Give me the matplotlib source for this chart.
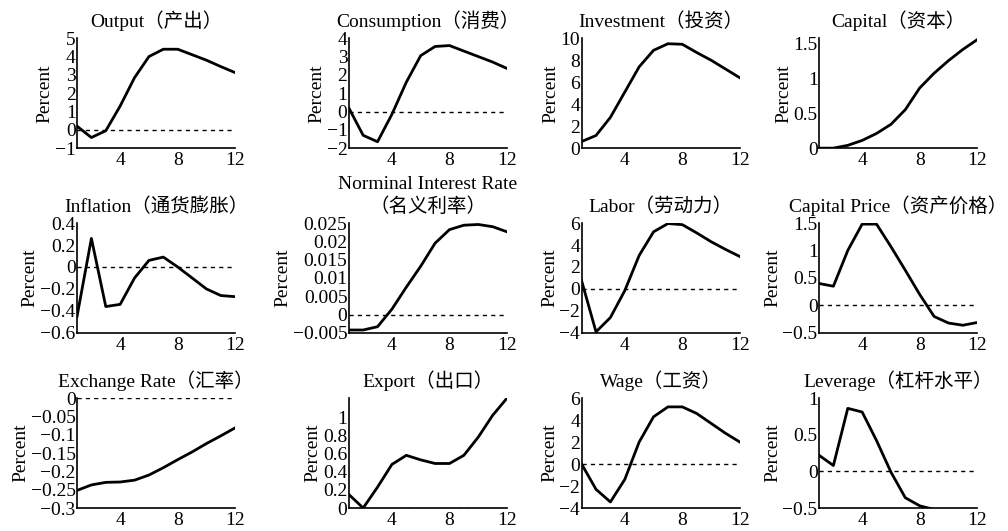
import matplotlib
matplotlib.use('Agg')
import matplotlib.pyplot as plt
import numpy as np
from matplotlib.ticker import FuncFormatter

plt.rcParams['font.family'] = ['Liberation Serif', 'Noto Sans CJK SC']
plt.rcParams['font.size'] = 14
plt.rcParams['axes.unicode_minus'] = True

quarters = np.arange(1, 13)

output = [0.2, -0.42, -0.05, 1.3, 2.85, 4.0, 4.4, 4.4, 4.1, 3.8, 3.45, 3.12]
consumption = [0.2, -1.3, -1.65, -0.15, 1.6, 3.05, 3.55, 3.6, 3.3, 3.0, 2.7, 2.35]
investment = [0.6, 1.15, 2.8, 5.1, 7.4, 8.9, 9.5, 9.45, 8.7, 8.0, 7.2, 6.4]
capital = [0.0, 0.0, 0.04, 0.11, 0.21, 0.34, 0.55, 0.86, 1.07, 1.25, 1.41, 1.55]
inflation = [-0.45, 0.26, -0.36, -0.34, -0.1, 0.06, 0.09, 0.0, -0.1, -0.2, -0.26, -0.27]
interest = [-0.0042, -0.0042, -0.0033, 0.0015, 0.0075, 0.0132, 0.0195, 0.0232, 0.0244, 0.0246, 0.024, 0.0226]
labor = [0.75, -3.9, -2.6, -0.15, 3.05, 5.2, 5.95, 5.85, 5.1, 4.3, 3.6, 2.95]
capital_price = [0.4, 0.35, 1.0, 1.48, 1.48, 1.07, 0.64, 0.2, -0.2, -0.32, -0.36, -0.31]
exchange = [-0.252, -0.237, -0.23, -0.229, -0.224, -0.21, -0.19, -0.168, -0.147, -0.124, -0.103, -0.081]
export = [0.15, 0.0, 0.23, 0.48, 0.58, 0.53, 0.49, 0.49, 0.58, 0.78, 1.02, 1.21]
wage = [0.0, -2.3, -3.45, -1.4, 2.0, 4.3, 5.2, 5.2, 4.6, 3.7, 2.8, 2.0]
leverage = [0.22, 0.08, 0.86, 0.81, 0.42, -0.01, -0.36, -0.47, -0.52, -0.56, -0.58, -0.58]

titles = ['Output（产出）', 'Consumption（消费）', 'Investment（投资）', 'Capital（资本）',
          'Inflation（通货膨胀）', 'Norminal Interest Rate\n（名义利率）', 'Labor（劳动力）',
          'Capital Price（资产价格）',
          'Exchange Rate（汇率）', 'Export（出口）', 'Wage（工资）', 'Leverage（杠杆水平）']
series = [output, consumption, investment, capital,
          inflation, interest, labor, capital_price,
          exchange, export, wage, leverage]
ylims = [(-1, 5), (-2, 4), (0, 10), (0, 1.57),
         (-0.6, 0.4), (-0.005, 0.025), (-4, 6), (-0.5, 1.5),
         (-0.3, 0), (0, 1.21), (-4, 6), (-0.5, 1)]
yticks = [np.arange(-1, 6, 1), np.arange(-2, 5, 1), np.arange(0, 11, 2), [0, 0.5, 1, 1.5],
          np.arange(-0.6, 0.41, 0.2), np.arange(-0.005, 0.0251, 0.005), np.arange(-4, 7, 2),
          [-0.5, 0, 0.5, 1, 1.5],
          np.arange(-0.3, 0.001, 0.05), [0, 0.2, 0.4, 0.6, 0.8, 1], np.arange(-4, 7, 2),
          [-0.5, 0, 0.5, 1]]
zero_line = [True, True, False, False,
             True, True, True, True,
             True, True, True, True]

lefts = [0.0764, 0.346, 0.577, 0.8125]
bottoms = [0.721, 0.373, 0.0433]
w, h = 0.157, 0.207

def fmt(v, pos):
    v = round(v, 6)
    if abs(v) < 1e-9:
        return '0'
    return ('%g' % v).replace('-', '\u2212')

fig = plt.figure(figsize=(10.08, 5.31), dpi=100)

for i in range(12):
    r, c = divmod(i, 4)
    ax = fig.add_axes([lefts[c], bottoms[r], w, h])
    if zero_line[i]:
        ax.axhline(0, color='k', linestyle=(0, (3, 3)), linewidth=1.0)
    ax.plot(quarters, series[i], color='k', linewidth=2.0)
    ax.set_xlim(1, 12)
    ax.set_ylim(*ylims[i])
    ax.set_xticks([4, 8, 12])
    ax.set_yticks(yticks[i])
    ax.yaxis.set_major_formatter(FuncFormatter(fmt))
    ax.spines['top'].set_visible(False)
    ax.spines['right'].set_visible(False)
    ax.spines['left'].set_linewidth(1.2)
    ax.spines['bottom'].set_linewidth(1.2)
    ax.tick_params(axis='y', length=0, pad=1, labelsize=14)
    ax.tick_params(axis='x', length=0, pad=3, labelsize=14)
    ax.set_ylabel('Percent', labelpad=1)
    ax.set_title(titles[i], fontsize=14, pad=8, linespacing=1.3)

fig.savefig('out.png', dpi=100)
